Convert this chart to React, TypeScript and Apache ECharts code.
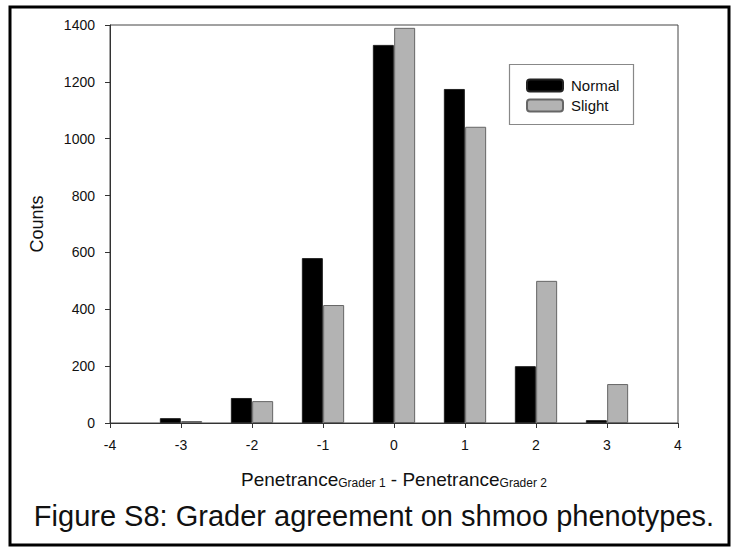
import React, { useEffect, useRef } from "react";
import * as echarts from "echarts";

const categories = [-3, -2, -1, 0, 1, 2, 3];
const normalCounts = [17, 88, 580, 1330, 1175, 200, 10];
const slightCounts = [7, 77, 415, 1390, 1042, 500, 137];
const seriesNames = ["Normal", "Slight"];
const xTicks = { min: -4, max: 4, step: 1 };
const yTicks = { min: 0, max: 1400, step: 200 };
const sideOffset = 0.15;

export default function App() {
  const ref = useRef<HTMLDivElement>(null);
  useEffect(() => {
    if (!ref.current) return;
    const chart = echarts.init(ref.current, null, { renderer: "svg" });
    const font = "Arial, 'Liberation Sans', sans-serif";
    chart.setOption({
      animation: false,
      backgroundColor: "#ffffff",
      textStyle: { fontFamily: font },
      grid: {
        left: 110,
        top: 25,
        width: 568,
        height: 398,
        show: true,
        borderColor: "#444",
        borderWidth: 1,
        backgroundColor: "transparent",
      },
      legend: {
        left: 521,
        top: 73,
        orient: "vertical",
        itemWidth: 36,
        itemHeight: 12,
        itemGap: 5,
        textStyle: { fontSize: 15, color: "#111", fontFamily: font, padding: [0, 0, 0, 3] },
        data: seriesNames,
      },
      xAxis: {
        type: "value",
        min: xTicks.min,
        max: xTicks.max,
        interval: xTicks.step,
        splitLine: { show: false },
        axisLine: { onZero: false, lineStyle: { color: "#333", width: 1 } },
        axisTick: { show: true, length: 5, lineStyle: { color: "#333" } },
        axisLabel: { fontSize: 14, color: "#111", margin: 15, fontFamily: font, formatter: (v: number) => String(v) },
        name: "{m|Penetrance}{s|Grader 1}{m| - Penetrance}{s|Grader 2}",
        nameLocation: "middle",
        nameGap: 42,
        nameTextStyle: {
          rich: {
            m: { fontSize: 19, color: "#111", fontFamily: font, lineHeight: 24, verticalAlign: "bottom" },
            s: { fontSize: 12, color: "#111", fontFamily: font, lineHeight: 12, verticalAlign: "bottom" },
          },
        },
      },
      yAxis: {
        type: "value",
        min: yTicks.min,
        max: yTicks.max,
        interval: yTicks.step,
        splitLine: { show: false },
        axisLine: { show: true, onZero: false, lineStyle: { color: "#333", width: 1 } },
        axisTick: { show: true, length: 5, lineStyle: { color: "#333" } },
        axisLabel: { fontSize: 14, color: "#111", margin: 15, fontFamily: font, formatter: (v: number) => String(v) },
        name: "Counts",
        nameLocation: "middle",
        nameRotate: 90,
        nameGap: 64,
        nameTextStyle: { fontSize: 18, color: "#111", fontFamily: font },
      },
      series: [
        {
          name: seriesNames[0],
          type: "bar",
          barWidth: 21,
          barGap: "-100%",
          itemStyle: { color: "#000000", borderColor: "#222", borderWidth: 1 },
          data: categories.map((c, i) => [c - sideOffset, normalCounts[i]]),
        },
        {
          name: seriesNames[1],
          type: "bar",
          barWidth: 21,
          barGap: "-100%",
          itemStyle: { color: "#b3b3b3", borderColor: "#666", borderWidth: 1 },
          data: categories.map((c, i) => [c + sideOffset, slightCounts[i]]),
        },
      ],
      graphic: [
        {
          type: "rect",
          shape: { x: 10, y: 7, width: 719, height: 538 },
          style: { fill: "none", stroke: "#000", lineWidth: 3 },
          silent: true,
        },
        {
          type: "rect",
          shape: { x: 509.5, y: 64.5, width: 124, height: 60 },
          style: { fill: "none", stroke: "#888", lineWidth: 1.2 },
          silent: true,
        },
        {
          type: "text",
          x: 374,
          y: 516,
          style: {
            text: "Figure S8: Grader agreement on shmoo phenotypes.",
            fontSize: 29,
            fontFamily: font,
            fill: "#111",
            textAlign: "center",
            textVerticalAlign: "middle",
          },
          silent: true,
        },
      ],
    });
    return () => chart.dispose();
  }, []);
  return (
    <div
      ref={ref}
      style={{ position: "absolute", left: 0, top: 0, width: 731, height: 548 }}
    />
  );
}
